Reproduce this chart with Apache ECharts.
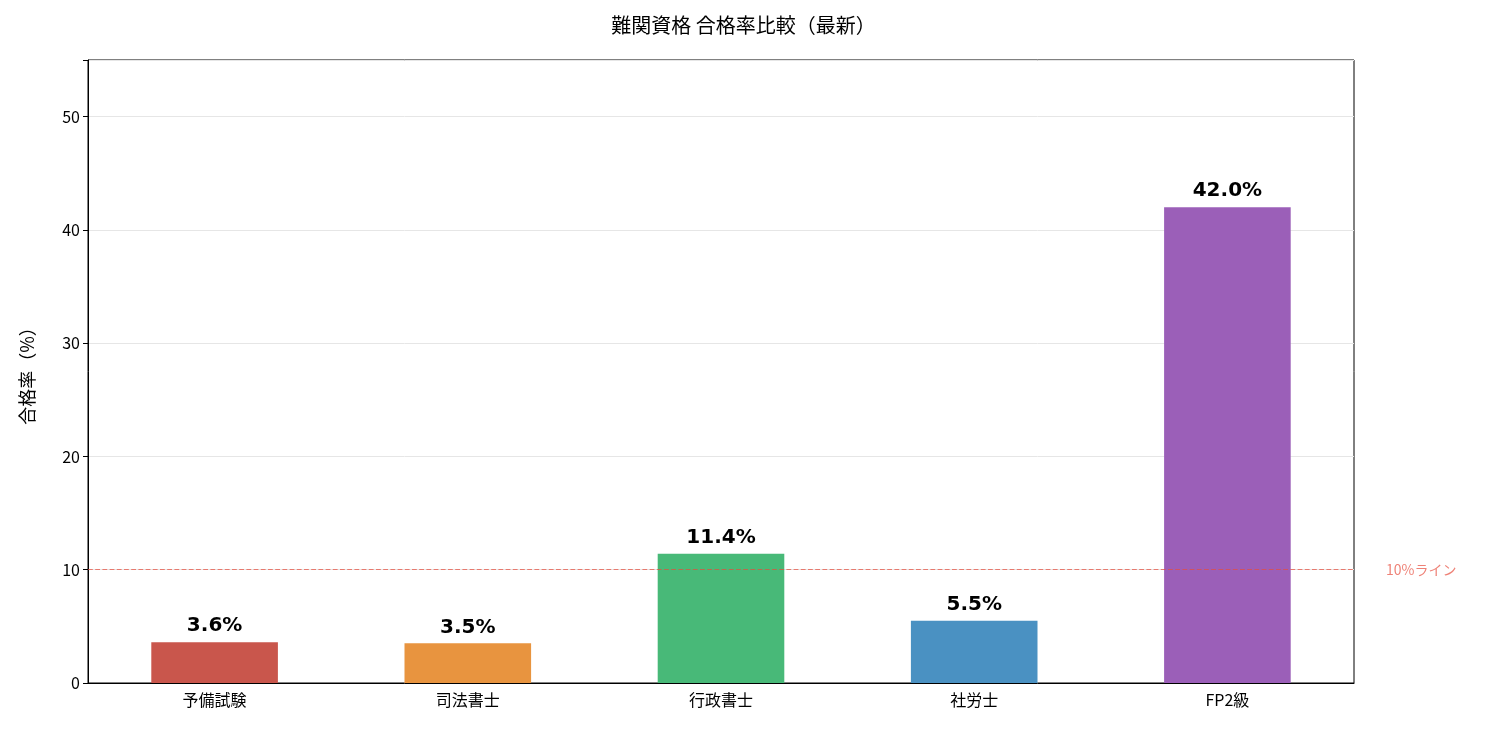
<!DOCTYPE html>
<html><head><meta charset="utf-8">
<script src="https://cdn.jsdelivr.net/npm/echarts@6/dist/echarts.min.js"></script>
<style>html,body{margin:0;padding:0;background:#fff}#c{width:1487px;height:733px}</style>
</head><body><div id="c"></div>
<script>
const categories = ['予備試験','司法書士','行政書士','社労士','FP2級'];
const rates = [3.6, 3.5, 11.4, 5.5, 42.0];
const barColors = ['#c9564c','#e8943f','#48b978','#4a91c2','#9b5fb8'];
const yTicks = [0,10,20,30,40,50];
const refLine = 10;
const F = '"Noto Sans CJK JP","Noto Sans",sans-serif';
const chart = echarts.init(document.getElementById('c'));
chart.setOption({
  animation:false,
  title:{text:'難関資格 合格率比較（最新）',left:'center',top:10,textStyle:{fontFamily:F,fontSize:20,fontWeight:'normal',color:'#000'}},
  grid:{left:88,right:133,top:60,bottom:50,show:true,borderColor:'#000',borderWidth:1,backgroundColor:'transparent'},
  xAxis:{type:'category',data:categories,axisLine:{lineStyle:{color:'#000'}},axisTick:{alignWithLabel:true,lineStyle:{color:'#000'},length:5},
    axisLabel:{fontFamily:F,fontSize:16,color:'#000',margin:9}},
  yAxis:{type:'value',min:0,max:55,interval:10,name:'合格率（%）',nameLocation:'middle',nameGap:52,
    nameTextStyle:{fontFamily:F,fontSize:18,color:'#000'},
    axisLine:{show:true,lineStyle:{color:'#000'}},axisTick:{show:true,length:5,lineStyle:{color:'#000'}},
    axisLabel:{fontFamily:F,fontSize:16,color:'#000',formatter:v=>yTicks.includes(v)?v:''},
    splitLine:{lineStyle:{color:'#e6e6e6'}}},
  series:[{type:'bar',barWidth:'50%',
    data:rates.map((v,i)=>({value:v,itemStyle:{color:barColors[i]}})),
    label:{show:true,position:'top',distance:6,formatter:p=>p.value.toFixed(1)+'%',fontFamily:'"DejaVu Sans",sans-serif',fontSize:20,fontWeight:'bold',color:'#000'},
    markLine:{symbol:'none',silent:true,data:[{yAxis:refLine}],
      lineStyle:{color:'#e74c3c',type:'dashed',width:1.2,opacity:0.7},
      label:{position:'end',formatter:'10%ライン',color:'#e74c3c',fontFamily:F,fontSize:14,distance:32}}}]
});
</script></body></html>
